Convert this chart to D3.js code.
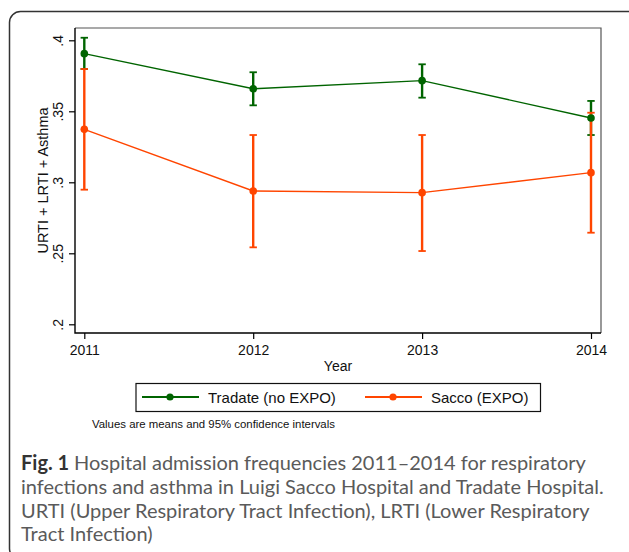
<!DOCTYPE html>
<html>
<head>
<meta charset="utf-8">
<script src="https://cdn.jsdelivr.net/npm/d3@7"></script>
<style>
  body { margin: 0; background: #fff; }
  svg { display: block; }
</style>
</head>
<body>
<svg id="chart"></svg>
<script>
const width = 629;
const height = 552;

// data
const years = [2011, 2012, 2013, 2014];
const tradateMean = [0.3906, 0.3659, 0.3716, 0.3453];
const tradateLow  = [0.3798, 0.3542, 0.3596, 0.3333];
const tradateHigh = [0.4018, 0.3775, 0.3831, 0.3573];
const saccoMean = [0.3373, 0.2939, 0.2927, 0.3068];
const saccoLow  = [0.2948, 0.2542, 0.2516, 0.2645];
const saccoHigh = [0.3798, 0.3333, 0.3333, 0.3490];
const yTicks = [0.2, 0.25, 0.3, 0.35, 0.4];
const seriesNames = ["Tradate (no EXPO)", "Sacco (EXPO)"];
const colors = ["#006400", "#ff4500"];

const plot = {left: 75, right: 601, top: 28, bottom: 333};

const svg = d3.select("#chart")
    .attr("width", width)
    .attr("height", height);

// outer rounded frame
svg.append("rect")
    .attr("x", 9.5).attr("y", 11.5)
    .attr("width", 630).attr("height", 548)
    .attr("rx", 11)
    .attr("fill", "none")
    .attr("stroke", "#333")
    .attr("stroke-width", 1.5);

const x = d3.scaleLinear()
    .domain([2011, 2014])
    .range([84.3, 591]);

const y = d3.scaleLinear()
    .domain([0.2, 0.4])
    .range([324.3, 40.3]);

// plot frame (top / right grey)
svg.append("path")
    .attr("d", `M${plot.left},${plot.top}H${plot.right}V${plot.bottom}`)
    .attr("fill", "none")
    .attr("stroke", "#555")
    .attr("stroke-width", 1.2);

// axes
const yAxis = svg.append("g")
    .attr("transform", `translate(${plot.left},0)`)
    .call(d3.axisLeft(y)
        .tickValues(yTicks)
        .tickSize(6)
        .tickFormat(d => String(d).replace(/^0/, "")));
yAxis.select(".domain").remove();
yAxis.selectAll(".tick line").attr("stroke", "#000").attr("stroke-width", 1.2);
yAxis.selectAll(".tick text")
    .attr("x", null).attr("dy", null)
    .attr("transform", "translate(-12,0) rotate(-90)")
    .attr("text-anchor", "middle")
    .attr("font-family", "Liberation Sans, Arial, sans-serif")
    .attr("font-size", 14)
    .attr("fill", "#111");

const xAxis = svg.append("g")
    .attr("transform", `translate(0,${plot.bottom})`)
    .call(d3.axisBottom(x)
        .tickValues(years)
        .tickSize(6)
        .tickFormat(d3.format("d")));
xAxis.select(".domain").remove();
xAxis.selectAll(".tick line").attr("stroke", "#000").attr("stroke-width", 1.2);
xAxis.selectAll(".tick text")
    .attr("y", 22).attr("dy", null)
    .attr("font-family", "Liberation Sans, Arial, sans-serif")
    .attr("font-size", 14)
    .attr("fill", "#111");

svg.append("path")
    .attr("d", `M${plot.left},${plot.top}V${plot.bottom}H${plot.right}`)
    .attr("fill", "none")
    .attr("stroke", "#000")
    .attr("stroke-width", 1.4);

// axis titles
svg.append("text")
    .attr("transform", `translate(48,${(plot.top + plot.bottom) / 2}) rotate(-90)`)
    .attr("text-anchor", "middle")
    .attr("font-family", "Liberation Sans, Arial, sans-serif")
    .attr("font-size", 14.5)
    .attr("fill", "#111")
    .text("URTI + LRTI + Asthma");

svg.append("text")
    .attr("x", (plot.left + plot.right) / 2)
    .attr("y", 371)
    .attr("text-anchor", "middle")
    .attr("font-family", "Liberation Sans, Arial, sans-serif")
    .attr("font-size", 14)
    .attr("fill", "#111")
    .text("Year");

// series
const series = [
    {mean: tradateMean, low: tradateLow, high: tradateHigh},
    {mean: saccoMean, low: saccoLow, high: saccoHigh}
];

const line = d3.line()
    .x(d => x(d.year))
    .y(d => y(d.value));

function rows(s) {
    return years.map((yr, i) => ({year: yr, value: s.mean[i], low: s.low[i], high: s.high[i]}));
}

// confidence intervals first
series.forEach((s, k) => {
    const g = svg.append("g").attr("stroke", colors[k]);
    const data = rows(s);
    g.selectAll(".ci")
        .data(data)
        .enter()
        .append("line")
            .attr("x1", d => x(d.year)).attr("x2", d => x(d.year))
            .attr("y1", d => y(d.low)).attr("y2", d => y(d.high))
            .attr("stroke-width", 2.4);
    g.selectAll(".capTop")
        .data(data)
        .enter()
        .append("line")
            .attr("x1", d => x(d.year) - 3.7).attr("x2", d => x(d.year) + 3.7)
            .attr("y1", d => y(d.high)).attr("y2", d => y(d.high))
            .attr("stroke-width", 1.8);
    g.selectAll(".capBottom")
        .data(data)
        .enter()
        .append("line")
            .attr("x1", d => x(d.year) - 3.7).attr("x2", d => x(d.year) + 3.7)
            .attr("y1", d => y(d.low)).attr("y2", d => y(d.low))
            .attr("stroke-width", 1.8);
});

// lines and means
series.forEach((s, k) => {
    const data = rows(s);
    svg.append("path")
        .datum(data)
        .attr("d", line)
        .attr("fill", "none")
        .attr("stroke", colors[k])
        .attr("stroke-width", 1.4);
    svg.selectAll(".pt" + k)
        .data(data)
        .enter()
        .append("circle")
            .attr("cx", d => x(d.year))
            .attr("cy", d => y(d.value))
            .attr("r", 3.8)
            .attr("fill", colors[k]);
});

// legend
const legend = svg.append("g");
legend.append("rect")
    .attr("x", 136).attr("y", 383.5)
    .attr("width", 404.5).attr("height", 28)
    .attr("fill", "#fff")
    .attr("stroke", "#111")
    .attr("stroke-width", 1.2);

const legendX = [142, 365];
seriesNames.forEach((name, k) => {
    const lx = legendX[k];
    legend.append("line")
        .attr("x1", lx).attr("x2", lx + 57)
        .attr("y1", 397).attr("y2", 397)
        .attr("stroke", colors[k])
        .attr("stroke-width", 2);
    legend.append("circle")
        .attr("cx", lx + 28).attr("cy", 397)
        .attr("r", 3.6)
        .attr("fill", colors[k]);
    legend.append("text")
        .attr("x", lx + 66).attr("y", 402.5)
        .attr("font-family", "Liberation Sans, Arial, sans-serif")
        .attr("font-size", 15)
        .attr("fill", "#111")
        .text(name);
});

svg.append("text")
    .attr("x", 92).attr("y", 428)
    .attr("font-family", "Liberation Sans, Arial, sans-serif")
    .attr("font-size", 11.4)
    .attr("fill", "#111")
    .text("Values are means and 95% confidence intervals");

// caption
const captionLines = [
    "Hospital admission frequencies 2011\u20132014 for respiratory",
    "infections and asthma in Luigi Sacco Hospital and Tradate Hospital.",
    "URTI (Upper Respiratory Tract Infection), LRTI (Lower Respiratory",
    "Tract Infection)"
];
captionLines.forEach((t, i) => {
    const txt = svg.append("text")
        .attr("x", 21)
        .attr("y", 470 + i * 23.8)
        .attr("font-family", "Lato, sans-serif")
        .attr("font-size", 20)
        .attr("fill", "#5a5a5a");
    if (i === 0) {
        txt.append("tspan")
            .attr("font-weight", "bold")
            .attr("fill", "#333")
            .text("Fig. 1 ");
        txt.append("tspan").text(t);
    } else {
        txt.text(t);
    }
});
</script>
</body>
</html>
